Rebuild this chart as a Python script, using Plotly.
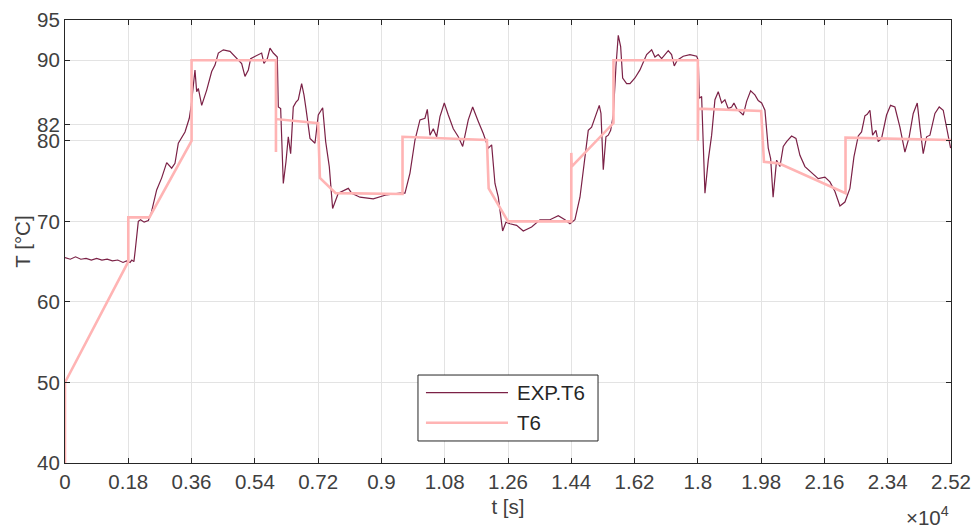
import plotly.graph_objects as go

# ---- data ----
exp_t = [0, 150, 300, 450, 600, 750, 900, 1050, 1200, 1350, 1500, 1650, 1750, 1850, 1900, 1960,
         2000, 2085, 2150, 2250, 2370, 2450, 2607, 2750, 2892, 3034, 3128, 3223, 3413, 3535, 3590,
         3630, 3697, 3745, 3792, 3888, 4030, 4172, 4266, 4361, 4503, 4693, 4930, 5025, 5119, 5214,
         5281, 5498, 5593, 5659, 5754, 5830, 5925, 6038, 6067, 6134, 6209, 6285, 6351, 6418, 6493,
         6570, 6635, 6731, 6797, 6854, 6968, 7110, 7204, 7329, 7414, 7517, 7612, 7773, 7900, 8058,
         8154, 8390, 8768, 9149, 9527, 9670, 9812, 9954, 10096, 10238, 10305, 10381, 10475, 10570,
         10665, 10788, 10902, 11044, 11186, 11311, 11470, 11595, 11755, 11897, 12040, 12135, 12229,
         12324, 12447, 12541, 12655, 12845, 13034, 13271, 13509, 13793, 14030, 14220, 14362, 14504,
         14647, 14741, 14883, 14978, 15073, 15196, 15244, 15310, 15386, 15452, 15520, 15594, 15670,
         15736, 15804, 15861, 15974, 16069, 16211, 16353, 16543, 16686, 16780, 16874, 16970, 17158,
         17253, 17329, 17414, 17584, 17775, 17966, 18012, 18040, 18107, 18155, 18202, 18296, 18392,
         18486, 18580, 18676, 18770, 18864, 18961, 19026, 19103, 19197, 19291, 19387, 19501, 19623,
         19717, 19814, 19908, 20002, 20070, 20140, 20240, 20334, 20429, 20524, 20666, 20790, 20903,
         21046, 21235, 21424, 21614, 21757, 21899, 22041, 22183, 22325, 22439, 22562, 22656, 22751,
         22817, 22894, 22970, 23065, 23130, 23225, 23367, 23481, 23604, 23747, 23889, 24011, 24126,
         24240, 24316, 24410, 24506, 24601, 24743, 24865, 24979, 25075, 25189]
exp_T = [65.5, 65.3, 65.6, 65.3, 65.4, 65.2, 65.4, 65.2, 65.3, 65.1, 65.2, 64.9, 65.1, 64.9, 65.2, 65.0,
         66.5, 70.0, 70.2, 69.9, 70.1, 71.0, 73.9, 75.4, 77.3, 76.6, 77.2, 79.7, 81.1, 82.8, 84.4,
         86.3, 88.8, 86.1, 86.5, 84.4, 86.3, 88.6, 89.4, 90.9, 91.3, 91.1, 90.0, 89.6, 88.0, 88.8,
         90.2, 90.7, 90.9, 89.6, 90.2, 91.5, 90.9, 90.4, 84.2, 84.0, 74.7, 77.4, 80.5, 78.4, 84.2,
         84.8, 85.1, 87.1, 85.7, 84.0, 80.3, 79.7, 83.2, 84.1, 79.9, 76.8, 71.6, 73.5, 73.8, 74.1,
         73.5, 73.0, 72.8, 73.3, 73.5, 73.5, 76.0, 80.1, 82.6, 82.8, 83.9, 80.7, 81.5, 80.5,
         83.0, 84.7, 83.2, 81.5, 80.5, 79.3, 82.6, 84.2, 82.4, 80.9, 79.1, 79.5, 74.7,
         73.0, 68.8, 69.9, 69.7, 69.5, 68.8, 69.3, 70.2, 70.2, 70.7, 70.2, 69.7, 70.2,
         73.0, 76.2, 81.3, 81.7, 82.8, 84.4, 83.4, 76.4, 80.5, 80.7, 81.3, 83.2, 89.2,
         93.1, 91.7, 87.8, 87.1, 87.1, 87.8, 88.8, 90.7, 91.3, 90.4, 90.7, 90.2, 91.2,
         90.7, 89.3, 90.0, 90.5, 90.7, 90.5, 90.0, 85.3, 85.5, 80.1, 73.5, 77.6, 80.7,
         85.1, 86.1, 84.7, 85.1, 84.0, 84.2, 84.7, 84.0, 83.6, 83.2, 84.9, 86.2, 85.7,
         85.0, 84.7, 83.8, 79.1, 77.8, 73.0, 77.6, 76.8, 79.3, 79.9, 80.6, 80.3, 78.2,
         76.8, 76.0, 75.3, 75.5, 74.9, 73.7, 71.9, 72.4, 74.1, 78.0, 80.6, 81.1, 83.1,
         83.3, 83.8, 80.7, 81.3, 79.9, 80.3, 83.2, 84.4, 84.2, 81.7, 78.6, 80.5, 83.4,
         84.7, 81.7, 78.4, 80.5, 80.7, 83.4, 84.2, 83.8, 81.7, 79.1]

sim_t = [0, 0, 1800, 1800, 2400, 3600, 3600, 6000, 6000, 6000, 7200, 7250, 7700, 9600, 9600,
         12000, 12050, 12600, 14400, 14400, 14410, 15600, 15600, 18000, 18000, 18010, 19800,
         19880, 20300, 22200, 22200, 25200]
sim_T = [40, 50, 65, 70.5, 70.5, 80, 90, 90, 78.6, 82.7, 82.2, 75.4, 73.5, 73.4, 80.5,
         80.1, 74.1, 70, 70, 78.5, 76.8, 82.2, 90, 90, 80, 84, 83.7,
         77.4, 77.2, 73.5, 80.4, 80.1]

series_names = ["EXP.T6", "T6"]
x_tickvals = [0, 1800, 3600, 5400, 7200, 9000, 10800, 12600, 14400, 16200, 18000, 19800, 21600, 23400, 25200]
x_ticktext = ["0", "0.18", "0.36", "0.54", "0.72", "0.9", "1.08", "1.26", "1.44", "1.62", "1.8",
              "1.98", "2.16", "2.34", "2.52"]
y_tickvals = [40, 50, 60, 70, 80, 82, 90, 95]

FONT = "Liberation Sans, Arial, sans-serif"
AX = "#262626"
TXT = "#404040"
GRID = "#e3e3e3"
C_EXP = "#7b2146"
C_SIM = "#ffb4b4"

fig = go.Figure()
fig.add_trace(go.Scatter(x=exp_t, y=exp_T, mode="lines", name=series_names[0],
                         line=dict(color=C_EXP, width=1.2), showlegend=False))
fig.add_trace(go.Scatter(x=sim_t, y=sim_T, mode="lines", name=series_names[1],
                         line=dict(color=C_SIM, width=2.6), showlegend=False))

axis_common = dict(showline=True, linecolor=AX, linewidth=1, mirror="ticks",
                   ticks="inside", ticklen=5, tickcolor=AX, tickwidth=1,
                   showgrid=True, gridcolor=GRID, gridwidth=1, zeroline=False,
                   automargin=False,
                   tickfont=dict(family=FONT, size=20.5, color=TXT))

fig.update_xaxes(range=[0, 25200], tickvals=x_tickvals, ticktext=x_ticktext,
                 title=dict(text="t [s]", font=dict(family=FONT, size=20.5, color=TXT), standoff=8),
                 **axis_common)
fig.update_yaxes(range=[40, 95], tickvals=y_tickvals,
                 title=dict(text="T [°C]", font=dict(family=FONT, size=20.5, color=TXT), standoff=0),
                 **axis_common)

fig.add_annotation(x=0.974, y=-0.12, xref="paper", yref="paper", showarrow=False,
                   text="×10<sup>4</sup>", font=dict(family=FONT, size=20.5, color=TXT),
                   xanchor="center", yanchor="middle")

# legend box drawn in paper coordinates (MATLAB-style long line swatches)
leg_x0, leg_x1, leg_y0, leg_y1 = 0.3984, 0.6016, 0.0497, 0.1986
sw_x0, sw_x1, txt_x = 0.4074, 0.5, 0.5079
row_y = [0.1587, 0.091]
row_col = [C_EXP, C_SIM]
row_w = [1.2, 2.6]
fig.add_shape(type="rect", xref="paper", yref="paper", x0=leg_x0, x1=leg_x1, y0=leg_y0, y1=leg_y1,
              fillcolor="white", line=dict(color=AX, width=1), layer="above")
for name, yy, col, w in zip(series_names, row_y, row_col, row_w):
    fig.add_shape(type="line", xref="paper", yref="paper", x0=sw_x0, x1=sw_x1, y0=yy, y1=yy,
                  line=dict(color=col, width=w), layer="above")
    fig.add_annotation(x=txt_x, y=yy, xref="paper", yref="paper", showarrow=False, text=name,
                       xanchor="left", yanchor="middle",
                       font=dict(family=FONT, size=20.5, color="#262626"))

fig.update_layout(
    width=973, height=526,
    margin=dict(l=65, r=22, t=20, b=63, autoexpand=False),
    paper_bgcolor="white", plot_bgcolor="white",
    showlegend=False,
)

fig.write_html("out.html", config={"displayModeBar": False},
               post_script="document.body.style.margin='0';document.body.style.overflow='hidden';")
